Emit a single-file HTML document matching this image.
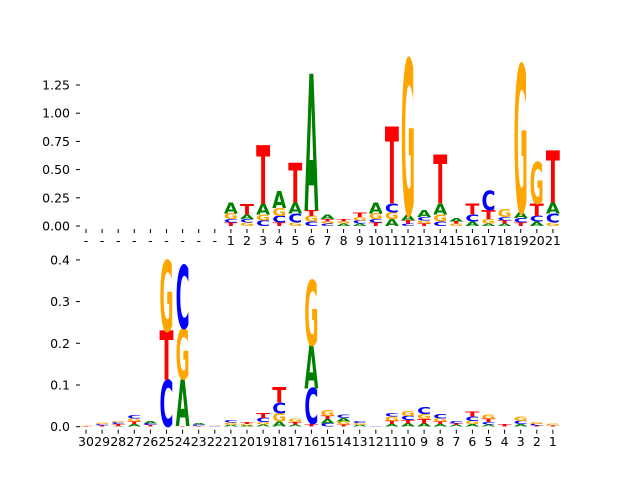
<!DOCTYPE html>
<html><head><meta charset="utf-8"><style>body{margin:0;background:#fff}svg{display:block}</style></head>
<body>
<svg id="chart" width="640" height="480" xmlns="http://www.w3.org/2000/svg" font-family="DejaVu Sans, Liberation Sans, sans-serif">
<g id="top"></g>
<g id="bot"></g>
</svg>
<script>
const colors = {A:'#008000', C:'#0000ff', G:'#ffa500', T:'#ff0000'};
const topLabels = ['-','-','-','-','-','-','-','-','-','1','2','3','4','5','6','7','8','9','10','11','12','13','14','15','16','17','18','19','20','21'];
const topStacks = [[],[],[],[],[],[],[],[],[],
 [['T',.03],['C',.03],['G',.05],['A',.1]],
 [['G',.03],['C',.03],['A',.04],['T',.09]],
 [['C',.05],['G',.05],['A',.1],['T',.52]],
 [['T',.03],['C',.06],['G',.07],['A',.15]],
 [['G',.03],['C',.08],['A',.1],['T',.35]],
 [['C',.04],['G',.05],['T',.05],['A',1.21]],
 [['C',.02],['G',.02],['T',.02],['A',.04]],
 [['A',.02],['G',.02],['T',.02]],
 [['A',.02],['C',.03],['G',.03],['T',.04]],
 [['T',.03],['C',.03],['G',.05],['A',.1]],
 [['A',.06],['G',.06],['C',.08],['T',.68]],
 [['C',.02],['T',.03],['A',.05],['G',1.38]],
 [['T',.02],['G',.03],['C',.03],['A',.06]],
 [['C',.04],['G',.06],['A',.1],['T',.43]],
 [['G',.02],['T',.02],['A',.03]],
 [['A',.04],['C',.06],['T',.1]],
 [['A',.02],['G',.04],['T',.08],['C',.17]],
 [['A',.02],['T',.03],['C',.03],['G',.07]],
 [['T',.03],['C',.04],['A',.05],['G',1.31]],
 [['A',.04],['C',.05],['T',.11],['G',.37]],
 [['G',.03],['C',.08],['A',.1],['T',.46]]
];
const topTicks = [0,0.25,0.5,0.75,1.0,1.25];
const topTickLabels = ['0.00','0.25','0.50','0.75','1.00','1.25'];
const botLabels = ['30','29','28','27','26','25','24','23','22','21','20','19','18','17','16','15','14','13','12','11','10','9','8','7','6','5','4','3','2','1'];
const botStacks = [
 [['T',.002],['G',.002]],
 [['T',.003],['C',.003],['G',.003]],
 [['A',.002],['T',.004],['C',.004],['G',.003]],
 [['A',.006],['T',.006],['G',.008],['C',.008]],
 [['T',.004],['C',.004],['A',.006]],
 [['C',.112],['T',.118],['G',.17]],
 [['T',.002],['A',.112],['G',.122],['C',.152]],
 [['T',.002],['C',.003],['A',.003]],
 [['C',.002],['G',.002]],
 [['A',.004],['G',.006],['C',.006]],
 [['A',.003],['G',.004],['T',.004]],
 [['A',.005],['G',.006],['C',.01],['T',.012]],
 [['A',.012],['G',.02],['C',.026],['T',.038]],
 [['A',.005],['T',.006],['G',.008]],
 [['T',.006],['C',.086],['A',.104],['G',.156]],
 [['C',.008],['A',.01],['T',.008],['G',.014]],
 [['T',.005],['G',.008],['A',.008],['C',.008]],
 [['A',.004],['G',.005],['C',.005]],
 [['C',.001]],
 [['A',.006],['T',.008],['G',.01],['C',.008]],
 [['A',.008],['T',.008],['C',.01],['G',.012]],
 [['A',.008],['T',.01],['G',.013],['C',.017]],
 [['A',.006],['T',.006],['G',.008],['C',.01]],
 [['A',.004],['T',.004],['C',.006]],
 [['A',.006],['G',.008],['C',.01],['T',.012]],
 [['A',.005],['C',.006],['T',.008],['G',.01]],
 [['T',.006]],
 [['A',.006],['C',.008],['G',.01]],
 [['T',.003],['C',.004],['G',.005]],
 [['T',.003],['G',.005]]
];
const botTicks = [0,0.1,0.2,0.3,0.4];
const botTickLabels = ['0.0','0.1','0.2','0.3','0.4'];

const NS='http://www.w3.org/2000/svg';
function mk(tag, attrs, parent){const e=document.createElementNS(NS,tag);for(const k in attrs)e.setAttribute(k,attrs[k]);parent.appendChild(e);return e;}
const xPos = i => 86 + 16.1*i;
const W = 14, FS = 100, CAP = 72.9;
function panel(g, stacks, labels, ticks, tickLabels, y0, scale, labelY){
  const yv = v => y0 - v*scale;
  ticks.forEach((t,k)=>{
    const ln = mk('line',{x1:76,x2:80,y1:yv(t),y2:yv(t),stroke:'#000','stroke-width':1},g);
    
    
    const tx = mk('text',{x:70,y:yv(t)+4.5,'font-size':12.5,'text-anchor':'end',fill:'#000'},g);
    
    
    tx.textContent = tickLabels[k];
  });
  labels.forEach((l,i)=>{
    const ln = mk('line',{x1:xPos(i),x2:xPos(i),y1:y0+3,y2:y0+7,stroke:'#000','stroke-width':1},g);
    
    
    const tx = mk('text',{x:xPos(i),y:labelY,'font-size':12.5,'text-anchor':'middle',fill:'#000'},g);
    
    
    tx.textContent = l;
  });
  stacks.forEach((st,i)=>{
    let acc = 0;
    st.forEach(([L,h])=>{
      const bottom = yv(acc), top = yv(acc+h);
      acc += h;
      const hp = bottom-top;
      if (hp <= 0.05) return;
      const t = mk('text',{x:0,y:0,'font-size':FS,'font-weight':'bold',fill:colors[L],
        textLength:W,lengthAdjust:'spacingAndGlyphs',
        transform:`translate(${xPos(i)-W/2},${bottom}) scale(1,${hp/CAP})`},g);
      
      
      t.textContent = L;
    });
  });
}
panel(document.getElementById('top'), topStacks, topLabels, topTicks, topTickLabels, 226, 112.8, 245);
panel(document.getElementById('bot'), botStacks, botLabels, botTicks, botTickLabels, 426.7, 417, 446);
</script>
</body></html>
